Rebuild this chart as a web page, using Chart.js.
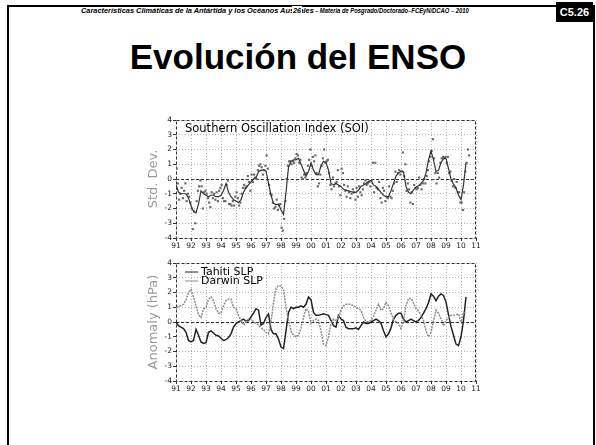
<!DOCTYPE html>
<html>
<head>
<meta charset="UTF-8">
<title>Evolución del ENSO</title>
<script src="https://cdn.jsdelivr.net/npm/chart.js@4.4.0/dist/chart.umd.min.js"></script>
<style>
    body { margin: 0; width: 596px; height: 445px; background: #fff; position: relative; overflow: hidden; font-family: 'Liberation Sans', Arial, sans-serif; }
    #marco { position: absolute; left: 7px; top: 5px; width: 584px; height: 460px; border: 2px solid #000; border-bottom: none; }
    .cab { position: absolute; top: 6px; font: italic bold 7.4px 'Liberation Sans'; white-space: nowrap; transform-origin: left top; }
    #cab1 { left: 81px; transform: scaleX(1.0); }
    #cab2 { left: 315px; transform: scaleX(0.79); }
    #pagina { position: absolute; left: 292px; top: 6px; font: italic bold 7.4px 'Liberation Sans'; background: #fff; padding: 0 1px; }
    #codigo { position: absolute; left: 556px; top: 2px; width: 37px; height: 20px; background: #000; color: #fff; font: bold 11px 'Liberation Sans'; text-align: center; line-height: 20px; }
    h1 { position: absolute; top: 37px; left: 0; width: 596px; margin: 0; text-align: center; font: bold 35px/40px 'Liberation Sans'; }
    canvas { position: absolute; }
    #graficoSOI { left: 126px; top: 110px; }
    #graficoSLP { left: 126px; top: 253px; }
</style>
</head>
<body>
<div id="marco"></div>
<div class="cab" id="cab1">Características Climáticas de la Antártida y los Océanos Australes</div>
<div class="cab" id="cab2">– Materia de Posgrado/Doctorado–FCEyN/DCAO – 2010</div>
<div id="pagina">26</div>
<div id="codigo">C5.26</div>
<h1>Evolución del ENSO</h1>
<canvas id="graficoSOI" width="364" height="142"></canvas>
<canvas id="graficoSLP" width="364" height="142"></canvas>

<script>
    // eje de tiempo: años 1991-2011
    const anioInicio = 1991;
    const etiquetasAnios = ['91', '92', '93', '94', '95', '96', '97', '98', '99', '00',
                            '01', '02', '03', '04', '05', '06', '07', '08', '09', '10', '11'];

    // SOI suavizado, cada 2 meses desde ene 1991
    const soiSuavizado = [
        -0.4, -0.9, -1.0, -1.0, -1.0, -1.3,
        -1.8, -2.2, -2.3, -1.7, -0.8, -1.0,
        -1.1, -1.2, -1.1, -1.1, -1.2, -1.2,
        -1.1, -0.8, -0.3, -0.9, -1.2, -1.4,
        -1.5, -1.6, -1.4, -0.9, -0.6, -0.4,
        -0.2, 0.0, 0.1, 0.5, 0.6, 0.6,
        0.55, -0.3, -1.1, -1.65, -1.75, -1.7,
        -2.1, -2.4, -0.9, 0.8, 1.2, 1.3,
        1.3, 1.4, 1.0, 0.6, 0.2, 0.5,
        1.1, 0.6, 0.3, 0.3, 0.9, 1.2,
        1.1, 0.6, -0.3, -0.4, -0.3, -0.4,
        -0.5, -0.7, -0.75, -0.8, -0.85, -0.9,
        -0.9, -0.75, -0.5, -0.4, -0.3, -0.15,
        -0.1, -0.4, -0.5, -0.7, -0.9, -1.1,
        -1.2, -1.2, -0.8, -0.3, 0.2, 0.4,
        0.55, 0.5, -0.5, -0.9, -1.0, -0.75,
        -0.55, -0.45, -0.3, -0.1, 0.4, 1.3,
        1.9, 1.3, 0.5, 0.6, 1.1, 1.4,
        1.4, 0.7, 0.0, -0.35, -0.6, -1.1,
        -1.4, -0.4, 1.1
    ];

    // SOI mensual (puntos)
    const soiMensual = [
        0.7, -0.3, -1.4, -1.0, -0.6, -1.3, -0.8, -0.3, -1.5, -1.0, -1.2, -1.6,
        -2.0, -3.4, -2.2, -3.0, -1.5, -0.8, -0.5, -0.1, -0.5, -2.0, -0.9, -0.8,
        -1.0, -1.3, -1.6, -1.9, -0.9, -1.3, -1.0, -1.4, -0.9, -1.5, -0.8, -0.6,
        -0.4, -1.3, -1.5, -1.5, -0.4, -0.1, -1.7, -1.7, -1.8, -1.5, -1.8, -1.2,
        -0.9, -1.3, -1.8, -1.6, -1.0, -0.6, -0.4, -0.6, -0.5, 0.2, -0.2, -0.8,
        0.3, -0.2, 0.3, 0.1, 0.0, 0.6, 0.9, 1.0, 0.8, 0.3, 0.6, 0.9,
        1.6, 0.7, -0.4, -1.0, -1.1, -1.6, -2.0, -1.9, -1.4, -2.1, -1.8, -1.7,
        -3.3, -3.5, -2.7, -1.5, 0.0, 0.9, 1.2, 1.2, 1.0, 1.2, 1.1, 1.4,
        1.7, 1.6, 1.1, 1.3, 0.1, 0.0, 0.3, 0.1, 0.4, 0.9, 1.3, 2.0,
        0.9, 1.5, 1.2, 1.6, 0.4, -0.5, -0.3, 0.3, 0.9, 1.4, 2.0, 1.1,
        1.2, 1.3, 0.4, -0.4, -0.7, 0.1, -0.5, -0.3, -0.2, 0.6, -0.5, -1.1,
        0.7, 0.4, -0.4, -0.8, -1.2, -0.5, -0.9, -1.3, -1.0, -0.7, -0.9, -1.4,
        -0.6, -1.2, -0.5, -0.9, -1.1, -0.7, -0.3, -0.1, -0.4, -0.3, -0.2, -0.5,
        -0.1, 1.1, -0.9, 1.1, -0.6, -0.7, -0.2, -1.3, -1.6, -0.6, -0.8, -1.5,
        -1.2, -1.3, -0.5, -1.2, -1.3, -0.8, -0.3, 0.5, -0.2, 0.4, 0.6, 0.3,
        0.5, 1.8, 0.2, 1.0, -0.8, -0.3, -0.7, -1.6, -0.9, -1.7, -0.4, -0.6,
        -0.7, -0.6, 0.1, -0.4, -0.7, -0.3, 0.0, -0.3, 0.2, 0.6, 1.2, 1.5,
        1.9, 2.7, 1.4, 0.4, -0.3, 0.4, 0.1, 1.1, 1.4, 1.5, 1.4, 1.5,
        1.1, 1.5, 0.4, 0.5, -0.1, -0.5, 0.0, -0.6, -0.2, -0.9, -0.9, -1.6,
        -1.6, -2.1, -0.9, 0.5, 1.1, 2.0, 1.6
    ];

    // anomalias de presion (hPa), cada 2 meses desde ene 1991
    const tahitiSLP = [
        0.0, -0.25, -0.35, -0.45, -0.7, -1.25,
        -1.35, -1.25, -0.5, -0.9, -1.35, -1.45,
        -1.4, -0.7, -0.6, -0.75, -0.9, -0.95,
        -1.1, -1.25, -1.2, -1.05, -0.8, -0.35,
        -0.1, 0.0, 0.1, 0.2, 0.05, 0.1,
        0.35, 0.6, 0.9, 0.8, -0.2, -0.1,
        0.3, 0.55, -0.5, -0.8, -0.8, -1.15,
        -1.7, -1.8, -0.6, 0.65, 1.0, 0.9,
        1.0, 1.0, 1.1, 1.0, 1.2, 1.7,
        1.5, 0.65, 0.45, 0.45, 0.5, 0.55,
        0.5, 0.45, 0.1, -0.25, -0.35, 0.45,
        0.2, 0.1, -0.35, -0.45, -0.45, -0.45,
        -0.4, -0.5, -0.25, 0.0, -0.1, -0.1,
        0.0, 0.1, 0.2, 0.1, -0.1, -0.6,
        -1.0, -0.8, -0.4, 0.2, 0.45, 0.6,
        0.6, 0.2, 0.0, 0.1, 0.2, 0.1,
        0.0, 0.1, 0.3, 0.6, 0.9, 1.3,
        1.9, 1.75, 1.45, 1.75, 1.9, 1.8,
        1.35, 0.5, -0.3, -0.9, -1.5, -1.6,
        -1.0, 0.1, 1.7
    ];
    const darwinSLP = [
        0.8, 1.1, 1.1, 1.2, 1.5, 2.0,
        2.2, 1.7, 1.1, 0.5, 0.3, 0.9,
        1.0, 1.55, 1.7, 1.45, 0.9, 0.6,
        0.6, 1.1, 1.45, 1.55, 1.55, 1.0,
        0.9, 0.45, 0.1, -0.2, 0.0, 0.2,
        0.2, 0.0, -0.1, -0.2, -0.4, -0.5,
        -0.7, -0.8, 0.0, 1.3, 2.3, 2.45,
        2.45, 2.2, 1.0, 0.1, -0.6, -0.9,
        -1.0, -0.9, -0.4, 0.3, 0.9, 0.7,
        -0.1, 0.1, 0.2, 0.1, -0.6, -1.5,
        -1.6, -1.0, -0.1, 0.2, 0.1, 0.3,
        0.8, 1.1, 1.2, 1.2, 1.2, 1.1,
        1.0, 0.9, 0.8, 0.3, 0.05, 0.0,
        0.1, 0.4, 0.8, 1.2, 0.8, 0.9,
        1.35, 1.1, 0.6, 0.2, 0.0, -0.1,
        -0.45, 0.1, 1.1, 1.6, 1.6, 1.3,
        0.9, 0.75, 0.5, 0.1, -0.6, -1.0,
        -0.7, 0.1, 0.8, 0.6, 0.2, -0.25,
        0.1, 0.3, 0.45, 0.45, 0.5, 0.55,
        0.0, 0.65, 0.65
    ];

    const ticksY = [-4, -3, -2, -1, 0, 1, 2, 3, 4];

    // pasar las series a puntos {x: año decimal, y: valor}
    function cadaDosMeses(valores) {
        return valores.map((v, i) => ({ x: anioInicio + i / 6, y: v }));
    }
    function mensual(valores) {
        return valores.map((v, i) => ({ x: anioInicio + (i + 0.5) / 12, y: v }));
    }

    // marco punteado, linea del cero y textos dentro del grafico
    const marcoGrads = {
        id: 'marcoGrads',
        beforeDatasetsDraw(chart) {
            const { ctx, chartArea: a, scales: { y } } = chart;
            const y0 = Math.round(y.getPixelForValue(0)) + 0.5;
            ctx.save();
            ctx.strokeStyle = '#333';
            ctx.lineWidth = 1;
            ctx.setLineDash([3, 2]);
            ctx.beginPath();
            ctx.moveTo(a.left, y0);
            ctx.lineTo(a.right, y0);
            ctx.stroke();
            ctx.strokeRect(Math.round(a.left) + 0.5, Math.round(a.top) + 0.5,
                           Math.round(a.width) - 1, Math.round(a.height));
            ctx.restore();
        },
        afterDraw(chart, args, opts) {
            const { ctx, chartArea: a } = chart;
            ctx.save();
            ctx.fillStyle = '#000';
            ctx.textBaseline = 'middle';
            if (opts.titulo) {
                ctx.font = '11.5px "DejaVu Sans"';
                ctx.fillText(opts.titulo, a.left + 9, a.top + 9);
            }
            if (opts.leyenda) {
                ctx.font = '11px "DejaVu Sans"';
                opts.leyenda.forEach((item, i) => {
                    const yy = a.top + 9 + i * 9;
                    ctx.strokeStyle = item.color;
                    ctx.lineWidth = 1;
                    ctx.setLineDash([]);
                    ctx.beginPath();
                    ctx.moveTo(a.left + 9, yy);
                    ctx.lineTo(a.left + 22, yy);
                    ctx.stroke();
                    ctx.fillText(item.texto, a.left + 25, yy);
                });
            }
            ctx.restore();
        }
    };

    function opcionesEjes(tituloY, extras) {
        return {
            responsive: false,
            animation: false,
            layout: { padding: { top: 10, right: 14, left: 0, bottom: 0 } },
            plugins: {
                legend: { display: false },
                tooltip: { enabled: false },
                marcoGrads: extras
            },
            scales: {
                x: {
                    type: 'linear',
                    min: anioInicio,
                    max: anioInicio + etiquetasAnios.length - 1,
                    ticks: {
                        stepSize: 1, autoSkip: false, maxRotation: 0, padding: 1,
                        color: '#222', font: { family: 'DejaVu Sans', size: 7.5 },
                        callback: v => etiquetasAnios[Math.round(v - anioInicio)]
                    },
                    grid: { color: '#b5b5b5', tickColor: '#333', tickLength: 3 },
                    border: { display: false, dash: [1, 2] },
                    afterFit: s => { s.height = 14; }
                },
                y: {
                    min: ticksY[0],
                    max: ticksY[ticksY.length - 1],
                    afterBuildTicks: s => { s.ticks = ticksY.map(v => ({ value: v })); },
                    ticks: { padding: 1, color: '#222', font: { family: 'DejaVu Sans', size: 7.5 } },
                    grid: { color: '#b5b5b5', tickColor: '#333', tickLength: 3 },
                    border: { display: false, dash: [1, 2] },
                    title: {
                        display: true, text: tituloY, color: '#9a9a9a',
                        font: { family: 'DejaVu Sans', size: 13 },
                        padding: { top: 20, bottom: 0 }
                    },
                    afterFit: s => { s.width = 50; }
                }
            }
        };
    }

    new Chart(document.getElementById('graficoSOI'), {
        type: 'scatter',
        data: {
            datasets: [
                {
                    label: 'SOI suavizado',
                    data: cadaDosMeses(soiSuavizado),
                    showLine: true, borderColor: '#333', borderWidth: 1.2,
                    pointRadius: 0, tension: 0
                },
                {
                    label: 'SOI mensual',
                    data: mensual(soiMensual),
                    pointStyle: 'rect', pointRadius: 1.5, pointBorderWidth: 0,
                    backgroundColor: '#666'
                }
            ]
        },
        options: opcionesEjes('Std. Dev.', { titulo: 'Southern Oscillation Index (SOI)' }),
        plugins: [marcoGrads]
    });

    new Chart(document.getElementById('graficoSLP'), {
        type: 'scatter',
        data: {
            datasets: [
                {
                    label: 'Darwin SLP',
                    data: cadaDosMeses(darwinSLP),
                    showLine: true, borderColor: '#8c8c8c', borderWidth: 1.5,
                    borderDash: [2, 1], pointRadius: 0, tension: 0
                },
                {
                    label: 'Tahiti SLP',
                    data: cadaDosMeses(tahitiSLP),
                    showLine: true, borderColor: '#222', borderWidth: 1.5,
                    pointRadius: 0, tension: 0
                }
            ]
        },
        options: opcionesEjes('Anomaly (hPa)', {
            leyenda: [
                { texto: 'Tahiti SLP', color: '#222' },
                { texto: 'Darwin SLP', color: '#8c8c8c' }
            ]
        }),
        plugins: [marcoGrads]
    });
</script>
</body>
</html>
